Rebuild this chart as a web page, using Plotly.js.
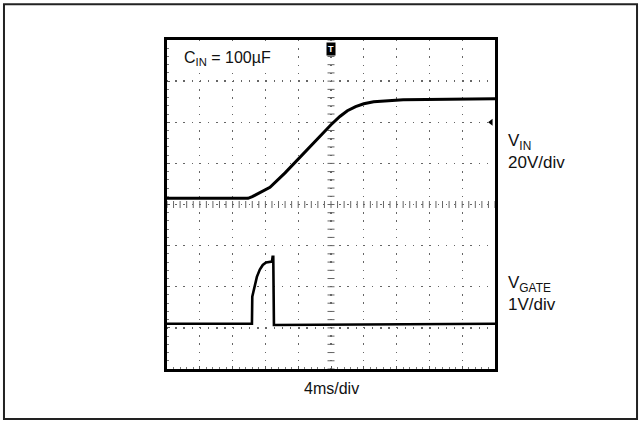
<!DOCTYPE html>
<html>
<head>
<meta charset="utf-8">
<script src="https://cdn.plot.ly/plotly-3.0.1.min.js"></script>
<style>
html,body{margin:0;padding:0;background:#fff;}
#chart{width:641px;height:422px;}
</style>
</head>
<body>
<div id="chart"></div>
<script>
// Values in scope divisions (x: 0..10 div at 4ms/div, y: 0..8 div from bottom)
const vinX  = [0, 2.47, 2.60, 2.80, 3.14, 3.60, 4.05, 4.66, 5.00, 5.27, 5.50, 5.75, 6.00, 6.30, 6.70, 7.20, 10];
const vinY  = [4.15, 4.15, 4.19, 4.27, 4.42, 4.77, 5.15, 5.65, 5.94, 6.14, 6.28, 6.38, 6.45, 6.50, 6.53, 6.55, 6.57];
const gateX = [0, 2.59, 2.60, 2.66, 2.74, 2.83, 2.92, 3.02, 3.20, 3.22, 3.24, 3.26, 10];
const gateY = [1.1, 1.1, 1.76, 2.0, 2.24, 2.42, 2.53, 2.59, 2.61, 2.73, 2.73, 1.07, 1.1];
const labelIn = "C<sub>IN</sub> = 100µF";
const labelVin = ["V<sub>IN</sub>", "20V/div"];
const labelGate = ["V<sub>GATE</sub>", "1V/div"];
const labelTime = "4ms/div";

const FONT = "Liberation Sans, Arial, sans-serif";

// crosshair tick decorations on center axes
const chX = [], chY = [], cvX = [], cvY = [];
for (let i = 0; i <= 50; i++) { chX.push(i * 0.2); chY.push(4); }
for (let i = 0; i <= 40; i++) { cvX.push(5); cvY.push(i * 0.2); }

const traces = [
  {x: chX, y: chY, mode: 'markers', hoverinfo: 'skip',
   marker: {symbol: 'line-ns-open', size: 5, color: '#666', line: {width: 1, color: '#666'}}},
  {x: cvX, y: cvY, mode: 'markers', hoverinfo: 'skip',
   marker: {symbol: 'line-ew-open', size: 5, color: '#666', line: {width: 1, color: '#666'}}},
  {x: vinX, y: vinY, mode: 'lines', line: {color: '#000', width: 3}},
  {x: gateX, y: gateY, mode: 'lines', line: {color: '#000', width: 2.6}},
  {x: [9.88], y: [6.0], mode: 'markers', marker: {symbol: 'triangle-left', size: 6, color: '#000'}}
];

const axisCommon = {
  showgrid: true, gridcolor: '#666', gridwidth: 1.3, griddash: '1.3px,6.9px',
  zeroline: false, showticklabels: false, ticks: 'inside', ticklen: 3,
  tickcolor: '#555', showline: true, linecolor: '#000', linewidth: 3, mirror: true,
  fixedrange: true
};

const layout = {
  width: 641, height: 422,
  margin: {l: 167, r: 146, t: 40, b: 53},
  paper_bgcolor: '#fff', plot_bgcolor: '#fff',
  showlegend: false,
  xaxis: Object.assign({}, axisCommon, {range: [0, 10], dtick: 1,
     minor: {dtick: 0.2, ticks: 'inside', ticklen: 2, tickcolor: '#777', showgrid: false}}),
  yaxis: Object.assign({}, axisCommon, {range: [0, 8], dtick: 1,
     minor: {dtick: 0.2, ticks: 'inside', ticklen: 2, tickcolor: '#777', showgrid: false}}),
  shapes: [
    {type: 'rect', xref: 'paper', yref: 'paper', x0: -0.497, x1: 1.433, y0: -0.152, y1: 1.109,
     line: {color: '#222', width: 2}}
  ],
  annotations: [
    {xref: 'paper', yref: 'paper', x: 0.045, y: 0.945, xanchor: 'left', yanchor: 'middle',
     text: labelIn, showarrow: false, bgcolor: '#fff', borderpad: 1,
     font: {family: FONT, size: 16, color: '#111'}},
    {xref: 'paper', yref: 'paper', x: 1.035, y: 0.66, xanchor: 'left', yanchor: 'middle', align: 'left',
     text: labelVin.join('<br>'), showarrow: false, font: {family: FONT, size: 17, color: '#111'}},
    {xref: 'paper', yref: 'paper', x: 1.035, y: 0.23, xanchor: 'left', yanchor: 'middle', align: 'left',
     text: labelGate.join('<br>'), showarrow: false, font: {family: FONT, size: 17, color: '#111'}},
    {xref: 'paper', yref: 'paper', x: 0.5, y: -0.058, xanchor: 'center', yanchor: 'middle',
     text: labelTime, showarrow: false, font: {family: FONT, size: 16, color: '#111'}},
    {xref: 'paper', yref: 'paper', x: 0.5, y: 0.995, xanchor: 'center', yanchor: 'top',
     text: '<b>T</b>', showarrow: false, bgcolor: '#000', borderpad: 1,
     font: {family: FONT, size: 9, color: '#fff'}}
  ]
};

Plotly.newPlot('chart', traces, layout, {displayModeBar: false, staticPlot: true});
</script>
</body>
</html>
